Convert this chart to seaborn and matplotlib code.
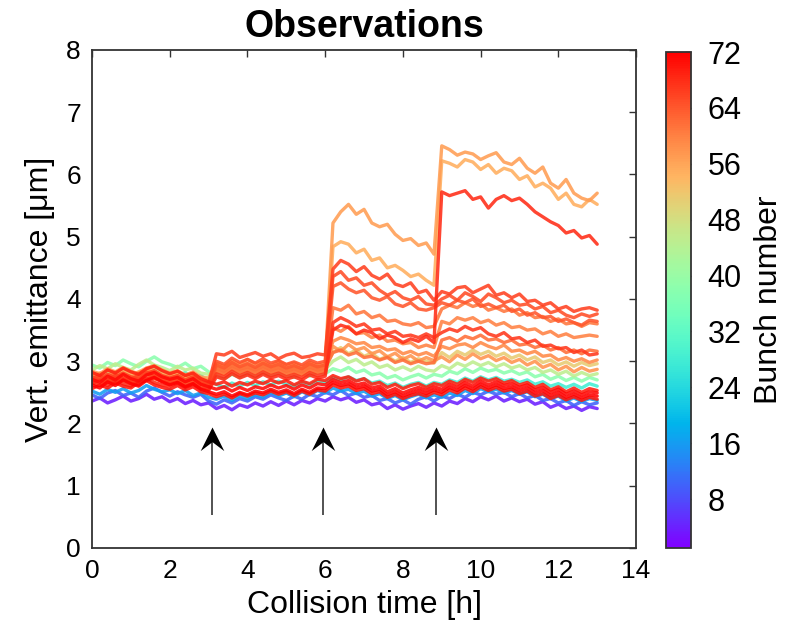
import numpy as np
import pandas as pd
import matplotlib
matplotlib.use("Agg")
import matplotlib.pyplot as plt
import seaborn as sns
from matplotlib.colors import Normalize
from matplotlib.cm import ScalarMappable
from matplotlib.path import Path

# Sampling grid of the emittance scans (hours of collisions)
time_h = np.round(np.arange(66) * 0.2, 1)

# Vertical emittance per bunch [um], one list per bunch
bunch_04 = [2.36,2.41,2.33,2.38,2.44,2.36,2.40,2.47,2.39,2.43,2.35,
            2.40,2.32,2.37,2.30,2.33,2.24,2.29,2.22,2.30,2.26,2.33,
            2.28,2.35,2.29,2.36,2.30,2.37,2.33,2.40,2.36,2.43,2.38,
            2.42,2.34,2.38,2.30,2.33,2.24,2.30,2.23,2.28,2.32,2.26,
            2.33,2.28,2.36,2.32,2.40,2.35,2.43,2.38,2.44,2.36,2.41,
            2.35,2.39,2.31,2.35,2.26,2.31,2.24,2.28,2.21,2.27,2.24]
bunch_10 = [2.46,2.40,2.49,2.53,2.45,2.49,2.42,2.52,2.57,2.50,2.44,
            2.51,2.46,2.42,2.47,2.36,2.31,2.38,2.33,2.40,2.36,2.43,
            2.39,2.46,2.41,2.37,2.44,2.39,2.47,2.43,2.50,2.46,2.53,
            2.45,2.49,2.42,2.45,2.37,2.40,2.33,2.38,2.31,2.39,2.43,
            2.36,2.44,2.40,2.47,2.42,2.50,2.46,2.52,2.47,2.50,2.43,
            2.48,2.41,2.45,2.37,2.40,2.33,2.37,2.29,2.35,2.30,2.33]
bunch_16 = [2.52,2.47,2.55,2.50,2.56,2.49,2.53,2.61,2.55,2.51,2.54,
            2.48,2.53,2.45,2.49,2.42,2.39,2.44,2.37,2.45,2.40,2.46,
            2.42,2.50,2.44,2.49,2.43,2.51,2.46,2.53,2.49,2.57,2.52,
            2.55,2.48,2.52,2.44,2.48,2.40,2.45,2.38,2.43,2.47,2.41,
            2.46,2.42,2.49,2.45,2.53,2.48,2.56,2.51,2.55,2.49,2.53,
            2.47,2.51,2.43,2.47,2.40,2.44,2.36,2.41,2.35,2.40,2.37]
bunch_28 = [2.80,2.76,2.84,2.79,2.86,2.81,2.77,2.85,2.90,2.83,2.79,
            2.76,2.82,2.74,2.77,2.68,2.63,2.58,2.65,2.60,2.66,2.61,
            2.67,2.62,2.68,2.63,2.60,2.67,2.62,2.69,2.66,2.74,2.70,
            2.75,2.69,2.72,2.65,2.68,2.61,2.65,2.58,2.63,2.66,2.60,
            2.66,2.63,2.70,2.66,2.73,2.68,2.75,2.70,2.74,2.68,2.71,
            2.66,2.70,2.63,2.67,2.60,2.64,2.58,2.63,2.57,2.64,2.60]
bunch_38 = [2.94,2.89,2.98,2.93,3.02,2.96,2.91,3.00,3.07,2.99,2.95,
            2.90,2.97,2.88,2.92,2.83,2.77,2.72,2.79,2.74,2.80,2.75,
            2.81,2.76,2.82,2.77,2.74,2.81,2.76,2.83,2.80,2.88,2.84,
            2.90,2.82,2.86,2.78,2.81,2.73,2.77,2.70,2.75,2.79,2.73,
            2.79,2.76,2.84,2.80,2.88,2.82,2.89,2.84,2.87,2.81,2.85,
            2.79,2.83,2.75,2.79,2.71,2.76,2.69,2.74,2.68,2.74,2.70]
bunch_45 = [2.86,2.93,2.88,2.96,2.90,2.86,2.95,3.02,2.94,2.90,2.85,
            2.92,2.86,2.89,2.81,2.79,2.85,2.80,2.87,2.81,2.86,2.82,
            2.88,2.83,2.89,2.84,2.80,2.88,2.83,2.90,2.87,3.00,3.07,
            2.98,3.03,2.94,2.99,2.90,2.94,2.86,2.91,2.85,2.92,2.86,
            2.84,2.93,2.88,2.97,2.92,2.99,2.93,2.98,2.91,2.96,2.89,
            2.93,2.86,2.90,2.82,2.86,2.79,2.84,2.76,2.82,2.77,2.80]
bunch_51 = [2.78,2.74,2.82,2.77,2.84,2.80,2.75,2.83,2.88,2.81,2.76,
            2.80,2.73,2.77,2.70,2.69,2.90,2.85,2.94,2.88,2.92,2.86,
            2.93,2.87,2.91,2.85,2.88,2.83,2.90,2.86,2.91,3.14,3.22,
            3.12,3.18,3.08,3.13,3.03,3.08,3.00,3.06,2.98,3.04,3.00,
            2.97,3.14,3.06,3.16,3.10,3.18,3.11,3.16,3.08,3.13,3.05,
            3.10,3.02,3.07,2.98,3.02,2.94,2.99,2.92,2.98,2.93,2.96]
bunch_55 = [2.81,2.77,2.86,2.80,2.84,2.78,2.83,2.89,2.84,2.79,2.76,
            2.82,2.75,2.80,2.72,2.70,2.88,2.83,2.92,2.86,2.90,2.85,
            2.91,2.84,2.89,2.83,2.87,2.82,2.89,2.85,2.88,4.84,4.92,
            4.88,4.74,4.80,4.62,4.66,4.50,4.54,4.46,4.36,4.40,4.30,
            4.22,6.22,6.18,6.12,6.24,6.20,6.08,6.16,6.02,6.10,6.06,
            5.92,5.98,5.80,5.86,5.78,5.60,5.70,5.52,5.48,5.60,5.52]
bunch_57 = [2.84,2.80,2.88,2.83,2.90,2.84,2.80,2.89,2.93,2.86,2.81,
            2.85,2.78,2.83,2.75,2.73,2.97,2.92,3.01,2.95,3.03,2.96,
            2.99,2.93,3.00,2.94,2.97,2.91,2.98,2.94,2.96,5.22,5.40,
            5.52,5.36,5.44,5.22,5.16,5.20,5.04,4.94,4.97,4.86,4.90,
            4.72,6.46,6.40,6.31,6.36,6.33,6.24,6.30,6.35,6.20,6.16,
            6.26,6.10,6.02,6.12,5.86,5.78,5.92,5.70,5.62,5.58,5.70]
bunch_58 = [2.75,2.81,2.76,2.83,2.78,2.73,2.82,2.86,2.80,2.75,2.77,
            2.73,2.79,2.71,2.74,2.66,2.91,2.86,2.95,2.89,2.93,2.87,
            2.94,2.88,2.92,2.86,2.90,2.85,2.93,2.88,2.91,3.24,3.16,
            3.27,3.18,3.22,3.12,3.17,3.07,3.13,3.03,3.09,3.00,3.06,
            3.01,3.07,2.99,3.10,3.03,3.12,3.04,3.09,3.01,3.06,2.98,
            3.03,2.94,3.00,2.90,2.95,2.86,2.92,2.83,2.90,2.84,2.87]
bunch_59 = [2.73,2.79,2.74,2.80,2.76,2.72,2.81,2.85,2.78,2.74,2.71,
            2.77,2.70,2.75,2.67,2.65,2.95,2.90,2.99,2.92,2.97,2.91,
            2.98,2.92,2.96,2.90,2.93,2.88,2.96,2.91,2.94,3.32,3.38,
            3.34,3.28,3.30,3.22,3.24,3.18,3.20,3.12,3.16,3.10,3.14,
            3.08,3.24,3.20,3.26,3.28,3.22,3.30,3.24,3.20,3.26,3.16,
            3.18,3.12,3.16,3.08,3.10,3.02,3.06,3.00,3.04,2.98,3.02]
bunch_60 = [2.72,2.77,2.70,2.78,2.74,2.70,2.79,2.83,2.76,2.72,2.70,
            2.75,2.69,2.73,2.66,2.64,2.83,2.79,2.88,2.81,2.86,2.80,
            2.87,2.81,2.85,2.79,2.83,2.78,2.86,2.81,2.84,3.54,3.48,
            3.56,3.44,3.46,3.38,3.42,3.32,3.34,3.28,3.30,3.22,3.26,
            3.22,3.64,3.60,3.70,3.66,3.70,3.62,3.66,3.58,3.62,3.54,
            3.56,3.50,3.52,3.44,3.48,3.40,3.44,3.38,3.40,3.42,3.40]
bunch_61 = [2.71,2.76,2.69,2.77,2.72,2.68,2.78,2.82,2.75,2.71,2.69,
            2.74,2.67,2.71,2.65,2.62,2.85,2.80,2.89,2.83,2.87,2.82,
            2.88,2.82,2.86,2.80,2.84,2.79,2.87,2.82,2.85,3.86,3.82,
            3.90,3.76,3.80,3.70,3.74,3.64,3.66,3.60,3.58,3.62,3.54,
            3.56,3.84,3.90,3.86,3.94,3.88,3.92,3.82,3.86,3.80,3.84,
            3.74,3.78,3.70,3.72,3.64,3.68,3.60,3.62,3.56,3.62,3.60]
bunch_62 = [2.69,2.74,2.67,2.75,2.70,2.66,2.76,2.80,2.73,2.69,2.67,
            2.72,2.65,2.70,2.63,2.60,2.89,2.84,2.93,2.87,2.91,2.86,
            2.92,2.86,2.90,2.84,2.88,2.83,2.91,2.86,2.89,3.14,3.18,
            3.10,3.14,3.06,3.08,3.02,3.06,2.98,3.02,2.96,3.00,2.96,
            2.98,3.34,3.38,3.32,3.40,3.36,3.42,3.34,3.36,3.30,3.34,
            3.26,3.28,3.22,3.26,3.18,3.22,3.14,3.18,3.12,3.18,3.16]
bunch_64 = [2.67,2.73,2.66,2.74,2.69,2.65,2.75,2.79,2.72,2.68,2.66,
            2.71,2.64,2.69,2.62,2.59,2.94,2.89,2.98,2.91,2.96,2.90,
            2.97,2.91,2.95,2.89,2.93,2.88,2.96,2.91,2.94,4.20,4.26,
            4.16,4.10,4.14,4.02,3.98,4.04,3.92,3.88,3.94,3.84,3.82,
            3.86,3.94,3.90,3.98,3.94,4.00,3.88,3.92,3.86,3.90,3.80,
            3.84,3.74,3.78,3.70,3.72,3.64,3.68,3.62,3.58,3.66,3.64]
bunch_65 = [2.72,2.77,2.69,2.78,2.73,2.69,2.79,2.82,2.76,2.71,2.69,
            2.74,2.67,2.72,2.64,2.62,3.00,2.95,3.05,2.98,3.03,2.97,
            3.04,2.97,3.01,2.95,2.99,2.94,3.02,2.97,3.00,4.36,4.44,
            4.30,4.34,4.22,4.26,4.14,4.06,4.12,4.02,3.98,4.04,3.92,
            3.90,4.00,4.06,3.98,4.10,4.04,3.96,4.08,4.02,3.94,3.98,
            3.90,3.92,3.84,3.88,3.78,3.82,3.74,3.70,3.76,3.72,3.76]
bunch_66 = [2.75,2.70,2.79,2.74,2.81,2.75,2.71,2.80,2.85,2.77,2.73,
            2.77,2.70,2.75,2.67,2.65,3.12,3.10,3.16,3.06,3.10,3.14,
            3.08,3.12,3.04,3.10,3.13,3.06,3.08,3.12,3.10,4.48,4.62,
            4.56,4.44,4.52,4.38,4.32,4.40,4.24,4.20,4.26,4.10,4.14,
            3.98,4.12,4.08,4.18,4.20,4.10,4.16,4.22,4.06,4.10,4.02,
            4.08,3.96,3.98,3.90,3.94,3.84,3.88,3.80,3.84,3.86,3.82]
bunch_67 = [2.66,2.61,2.70,2.65,2.72,2.66,2.62,2.71,2.75,2.68,2.64,
            2.67,2.60,2.65,2.57,2.55,2.80,2.75,2.84,2.77,2.82,2.76,
            2.83,2.77,2.81,2.75,2.79,2.74,2.82,2.77,2.80,3.62,3.70,
            3.64,3.56,3.60,3.50,3.52,3.44,3.48,3.40,3.42,3.38,3.44,
            3.38,3.46,3.52,3.48,3.56,3.50,3.54,3.44,3.40,3.46,3.36,
            3.38,3.30,3.34,3.24,3.26,3.20,3.22,3.14,3.18,3.10,3.12]
bunch_68 = [2.64,2.69,2.61,2.70,2.64,2.60,2.69,2.73,2.66,2.62,2.60,
            2.65,2.58,2.63,2.56,2.53,2.75,2.71,2.80,2.73,2.78,2.72,
            2.79,2.73,2.77,2.71,2.75,2.70,2.78,2.73,2.76,3.50,3.58,
            3.54,3.44,3.50,3.46,3.36,3.42,3.38,3.30,3.36,3.32,3.40,
            3.30,5.72,5.66,5.70,5.74,5.60,5.64,5.46,5.60,5.66,5.58,
            5.62,5.52,5.40,5.32,5.24,5.18,5.06,5.10,4.98,5.02,4.88]
bunch_69 = [2.82,2.77,2.86,2.81,2.89,2.83,2.79,2.88,2.92,2.85,2.80,
            2.84,2.77,2.81,2.72,2.67,2.63,2.67,2.60,2.66,2.62,2.68,
            2.64,2.70,2.65,2.69,2.62,2.68,2.64,2.71,2.69,2.77,2.72,
            2.75,2.68,2.72,2.63,2.66,2.58,2.63,2.56,2.61,2.64,2.58,
            2.64,2.61,2.68,2.63,2.71,2.66,2.73,2.68,2.72,2.65,2.69,
            2.62,2.66,2.58,2.63,2.54,2.59,2.51,2.57,2.50,2.56,2.53]
bunch_70 = [2.56,2.62,2.57,2.65,2.60,2.57,2.66,2.69,2.62,2.58,2.55,
            2.61,2.54,2.59,2.51,2.48,2.43,2.47,2.41,2.48,2.44,2.49,
            2.46,2.52,2.47,2.51,2.45,2.52,2.47,2.54,2.52,2.62,2.57,
            2.60,2.53,2.56,2.48,2.51,2.42,2.47,2.40,2.45,2.48,2.44,
            2.50,2.46,2.54,2.49,2.57,2.51,2.59,2.53,2.58,2.52,2.55,
            2.48,2.52,2.44,2.48,2.40,2.45,2.38,2.43,2.37,2.42,2.39]
bunch_71 = [2.71,2.66,2.76,2.70,2.79,2.72,2.68,2.78,2.82,2.75,2.71,
            2.74,2.67,2.72,2.63,2.59,2.55,2.59,2.52,2.58,2.53,2.59,
            2.56,2.62,2.57,2.61,2.55,2.62,2.57,2.64,2.62,2.71,2.66,
            2.69,2.62,2.65,2.57,2.60,2.51,2.56,2.49,2.54,2.58,2.53,
            2.59,2.55,2.63,2.58,2.66,2.60,2.68,2.62,2.67,2.61,2.64,
            2.58,2.62,2.54,2.58,2.50,2.55,2.47,2.52,2.46,2.51,2.49]
bunch_72 = [2.62,2.57,2.67,2.61,2.70,2.64,2.60,2.69,2.74,2.67,2.62,
            2.66,2.59,2.64,2.55,2.51,2.47,2.51,2.44,2.50,2.46,2.52,
            2.49,2.55,2.50,2.54,2.48,2.55,2.50,2.57,2.56,2.66,2.61,
            2.64,2.57,2.60,2.52,2.55,2.46,2.51,2.44,2.49,2.53,2.48,
            2.54,2.50,2.58,2.53,2.61,2.55,2.63,2.57,2.62,2.56,2.59,
            2.53,2.57,2.49,2.53,2.45,2.50,2.42,2.47,2.41,2.46,2.44]

bunch_ids = [4, 10, 16, 28, 38, 45, 51, 55, 57, 58, 59, 60, 61, 62,
             64, 65, 66, 67, 68, 69, 70, 71, 72]
bunch_series = [bunch_04, bunch_10, bunch_16, bunch_28, bunch_38, bunch_45,
                bunch_51, bunch_55, bunch_57, bunch_58, bunch_59, bunch_60,
                bunch_61, bunch_62, bunch_64, bunch_65, bunch_66, bunch_67,
                bunch_68, bunch_69, bunch_70, bunch_71, bunch_72]

# Times at which the blow-up events happened
event_times = [3.09, 5.94, 8.85]

colorbar_ticks = [8, 16, 24, 32, 40, 48, 56, 64, 72]

frames = [pd.DataFrame({"time": time_h, "emittance": vals, "bunch": b})
          for b, vals in zip(bunch_ids, bunch_series)]
df = pd.concat(frames, ignore_index=True)

sns.set_theme(style="white")
plt.rcParams["font.family"] = ["Liberation Sans", "DejaVu Sans"]
plt.rcParams["axes.edgecolor"] = "#333333"
plt.rcParams["text.color"] = "black"
plt.rcParams["axes.labelcolor"] = "black"
plt.rcParams["xtick.color"] = "black"
plt.rcParams["ytick.color"] = "black"

fig = plt.figure(figsize=(7.92, 6.27), dpi=100)
ax = fig.add_axes([0.1162, 0.126, 0.6869, 0.7943])
cax = fig.add_axes([0.8409, 0.126, 0.0316, 0.791])

norm = Normalize(vmin=1, vmax=72)
sns.lineplot(data=df, x="time", y="emittance", hue="bunch",
             palette="rainbow", hue_norm=norm, legend=False,
             errorbar=None, linewidth=2.4, alpha=0.88, ax=ax)

# Event markers: thin shaft with a notched arrow head
head = Path([(0, 0), (0.5, -1.0), (0, -0.62), (-0.5, -1.0), (0, 0)],
            [Path.MOVETO, Path.LINETO, Path.LINETO, Path.LINETO, Path.CLOSEPOLY])
for t in event_times:
    ax.plot([t, t], [0.53, 1.70], color="#444444", lw=1.3, solid_capstyle="butt")
    ax.plot([t], [1.94], marker=head, markersize=34, color="black",
            markeredgewidth=0, linestyle="none")

ax.set_xlim(0, 14)
ax.set_ylim(0, 8)
ax.set_xticks(range(0, 15, 2))
ax.set_yticks(range(0, 9))
ax.tick_params(direction="in", length=5, width=1, top=True, right=True,
               labelsize=19, pad=8, colors="#333333", labelcolor="black")
for sp in ax.spines.values():
    sp.set_linewidth(1.3)
ax.set_xlabel("Collision time [h]", fontsize=23, labelpad=5)
ax.set_ylabel("Vert. emittance [\u03bcm]", fontsize=23, labelpad=8)
ax.set_title("Observations", fontsize=27, fontweight="bold", pad=9)

sm = ScalarMappable(norm=norm, cmap="rainbow")
cb = fig.colorbar(sm, cax=cax, ticks=colorbar_ticks)
cb.outline.set_edgecolor("#333333")
cb.outline.set_linewidth(1.3)
cax.tick_params(direction="in", length=4, width=1, labelsize=22, pad=12,
                colors="#333333", labelcolor="black")
cb.set_label("Bunch number", fontsize=23, labelpad=9)

fig.savefig("out.png", dpi=100)
